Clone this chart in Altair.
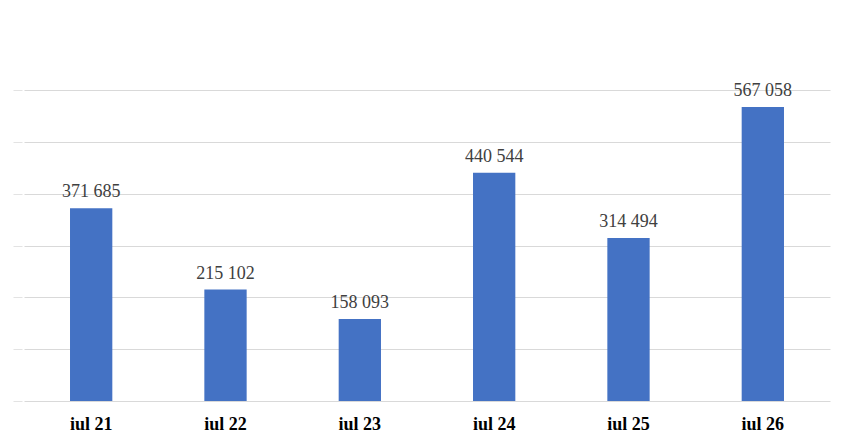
import altair as alt
import pandas as pd

categories = ["iul 21", "iul 22", "iul 23", "iul 24", "iul 25", "iul 26"]
values = [371685, 215102, 158093, 440544, 314494, 567058]
labels = ["371 685", "215 102", "158 093", "440 544", "314 494", "567 058"]
y_ticks = [0, 100000, 200000, 300000, 400000, 500000, 600000]

df = pd.DataFrame({"cat": categories, "val": values, "lab": labels})

x = alt.X("cat:N", sort=categories, title=None,
          scale=alt.Scale(paddingInner=0.685, paddingOuter=0.3425),
          axis=alt.Axis(labelAngle=0, ticks=False, domain=False,
                        labelFont="Liberation Serif", labelFontWeight="bold",
                        labelFontSize=18, labelColor="#000000",
                        labelBaseline="alphabetic", labelPadding=28))
y = alt.Y("val:Q", title=None,
          scale=alt.Scale(domain=[0, 600000], nice=False),
          axis=alt.Axis(values=y_ticks, labels=False, domain=False,
                        ticks=True, tickSize=9, offset=2, tickColor="#e3e3e3",
                        grid=True, gridColor="#d9d9d9", gridWidth=1))

bars = alt.Chart(df).mark_bar(color="#4472C4").encode(x=x, y=y)
text = alt.Chart(df).mark_text(font="Liberation Serif", fontSize=18,
                               color="#404040", baseline="alphabetic",
                               dy=-11).encode(
    x=alt.X("cat:N", sort=categories), y="val:Q", text="lab:N")

chart = (bars + text).properties(
    width=806, height=311,
    autosize=alt.AutoSizeParams(type="none"),
    padding={"left": 16, "top": 82, "right": 12, "bottom": 37},
    background="#ffffff",
).configure_view(stroke=None)

chart.save("out.html", embed_options={"renderer": "svg", "actions": False})
